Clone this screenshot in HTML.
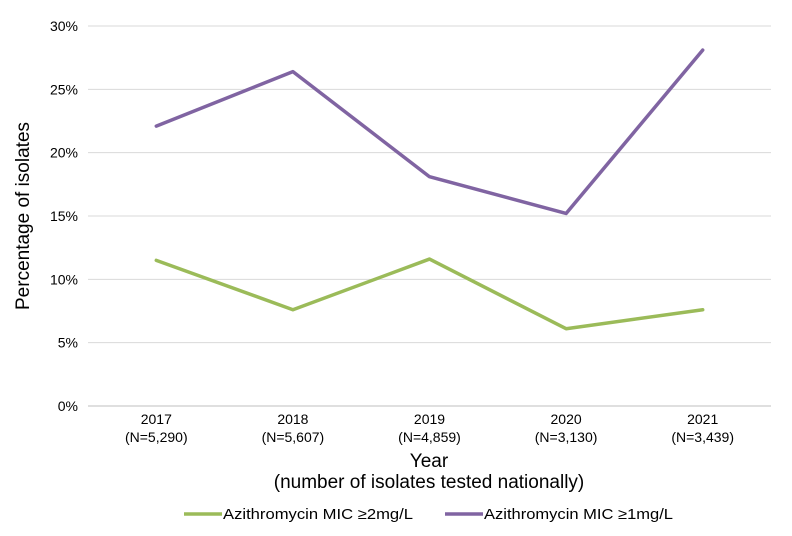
<!DOCTYPE html>
<html><head><meta charset="utf-8"><style>
body{margin:0;background:#fff;width:792px;height:531px;overflow:hidden;font-family:"Liberation Sans",Arial,sans-serif;}
svg text{font-family:"Liberation Sans",Arial,sans-serif;fill:#000;}
</style></head><body>
<svg id="chart" width="792" height="531" xmlns="http://www.w3.org/2000/svg">
<g id="grid"></g>
<g id="yt"></g>
<g id="xt"></g>
<g id="lines"></g>
<text transform="translate(29,216) rotate(-90)" text-anchor="middle" font-size="19">Percentage of isolates</text>
<text x="429" y="467" text-anchor="middle" font-size="19">Year</text>
<text x="429" y="488" text-anchor="middle" font-size="19">(number of isolates tested nationally)</text>
<g>
<line x1="184" y1="514" x2="222" y2="514" stroke="#9BBB59" stroke-width="3.5"/>
<text x="223" y="519" font-size="15" textLength="190" lengthAdjust="spacingAndGlyphs">Azithromycin MIC ≥2mg/L</text>
<line x1="445" y1="514" x2="483" y2="514" stroke="#8064A2" stroke-width="3.5"/>
<text x="484" y="519" font-size="15" textLength="189" lengthAdjust="spacingAndGlyphs">Azithromycin MIC ≥1mg/L</text>
</g>
</svg>
<script>
const categories=["2017","2018","2019","2020","2021"];
const nLabels=["(N=5,290)","(N=5,607)","(N=4,859)","(N=3,130)","(N=3,439)"];
const green=[11.5,7.6,11.6,6.1,7.6];
const purple=[22.1,26.4,18.1,15.2,28.1];
const yTicks=[0,5,10,15,20,25,30];
const NS="http://www.w3.org/2000/svg";
const L=88,R=771,T=26,B=406;
const x=i=>L+(R-L)/categories.length*(i+0.5);
const y=v=>B-(B-T)*v/30;
function mk(t,a,p){const e=document.createElementNS(NS,t);for(const k in a)e.setAttribute(k,a[k]);p.appendChild(e);return e;}
const grid=document.getElementById('grid'),yt=document.getElementById('yt'),xt=document.getElementById('xt'),lines=document.getElementById('lines');
yTicks.forEach(v=>{
 const l=mk('line',{x1:L,x2:R,y1:y(v),y2:y(v),stroke:v===0?'#bfbfbf':'#d9d9d9','stroke-width':1},grid);
 
 
 const t=mk('text',{x:78,y:y(v)+5,'text-anchor':'end','font-size':14},yt);
 t.textContent=v+'%';
 
 
});
categories.forEach((c,i)=>{
 const t=mk('text',{x:x(i),y:424,'text-anchor':'middle','font-size':14},xt);
 t.textContent=c;
 
 
 const n=mk('text',{x:x(i),y:442,'text-anchor':'middle','font-size':14},xt);
 n.textContent=nLabels[i];
 
 
});
[[green,'#9BBB59','green-line'],[purple,'#8064A2','purple-line']].forEach(([d,c,nm])=>{
 const p=mk('polyline',{points:d.map((v,i)=>x(i)+','+y(v)).join(' '),fill:'none',stroke:c,'stroke-width':3.5,'stroke-linejoin':'round','stroke-linecap':'round'},lines);
 
 
});
</script>
</body></html>
